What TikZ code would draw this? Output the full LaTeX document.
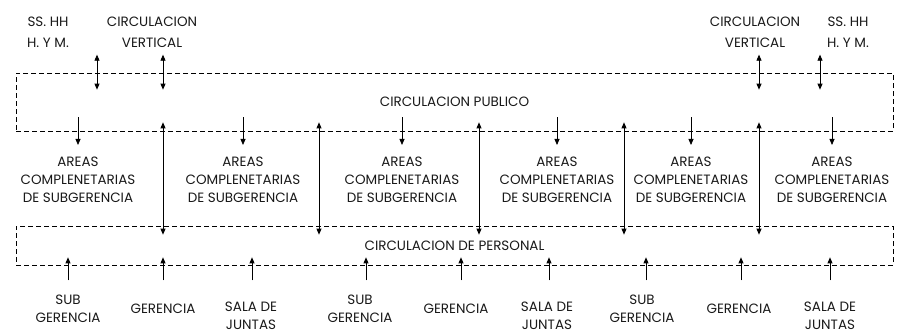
\documentclass[tikz,border=0pt]{standalone}
\usepackage{fontspec}
\setmainfont{Poppins}
\usetikzlibrary{arrows.meta,positioning,calc}
\tikzset{
  zone/.style = {draw=black, dash pattern=on 5pt off 3pt, line width=0.7pt,
                 minimum width=877pt, inner sep=0pt, text=black!90,
                 font=\fontsize{13.5}{18}\selectfont},
  lab/.style  = {align=center, inner sep=0pt, text=black!90,
                 font=\fontsize{13.5}{18}\selectfont},
  labt/.style = {lab, font=\fontsize{13.5}{21}\selectfont},
  arr/.style  = {-{Triangle[length=6pt,width=5pt]}, draw=black, line width=0.8pt},
  dbl/.style  = {{Triangle[length=6pt,width=5pt]}-{Triangle[length=6pt,width=5pt]},
                 draw=black, line width=0.8pt},
}

\begin{document}
\begin{tikzpicture}[x=1pt,y=-1pt]
  \useasboundingbox (0,0) rectangle (897,335);
  % the two circulation zones
  \node[zone, minimum height=58pt] (pub) at (454.5,102) {CIRCULACION PUBLICO};
  \node[zone, minimum height=39pt] (pers) at (454.5,245.5) {CIRCULACION DE PERSONAL};
  % top
  \node[labt] (ssl) at (48,32) {SS. HH\\H. Y M.};
  \node[labt] (cvl) at (152,32) {CIRCULACION\\VERTICAL};
  \node[labt] (cvr) at (755,32) {CIRCULACION\\VERTICAL};
  \node[labt] (ssr) at (848,32) {SS. HH\\H. Y M.};
  \foreach \x in {97,163,759,820}{\draw[dbl] ([yshift=18pt]pub.north -| \x,0) -- ([yshift=-17pt]pub.north -| \x,0);}
  % areas
  \foreach \n/\x in {a1/78,a2/243,a3/402,a4/557,a5/691,a6/832}{
    \node[lab] (\n) at (\x,180) {AREAS\\COMPLENETARIAS\\DE SUBGERENCIA};
    \draw[arr] ([yshift=14pt]pub.south -| \n) -- ([yshift=12pt]\n.north);
  }
  \foreach \x in {163,319,479,624,759}{\draw[dbl] ([yshift=9pt]pub.south -| \x,0) -- ([yshift=-9pt]pers.north -| \x,0);}
  % bottom
  \foreach \n/\x/\y/\t in {b1/68/309/{SUB\\GERENCIA}, b2/163/309/{GERENCIA}, b3/251/316/{SALA DE\\JUNTAS},
                           b4/360/309/{SUB\\GERENCIA}, b5/456/309/{GERENCIA}, b6/547/316/{SALA DE\\JUNTAS},
                           b7/642/309/{SUB\\GERENCIA}, b8/739/309/{GERENCIA}, b9/830/316/{SALA DE\\JUNTAS}}{
    \node[lab] (\n) at (\x,\y) {\t};
  }
  \foreach \x in {68,163,252,366,461,549,646,741,830}{\draw[arr] ([yshift=-15pt]pers.south -| \x,0) -- ([yshift=8pt]pers.south -| \x,0);}
\end{tikzpicture}
\end{document}
